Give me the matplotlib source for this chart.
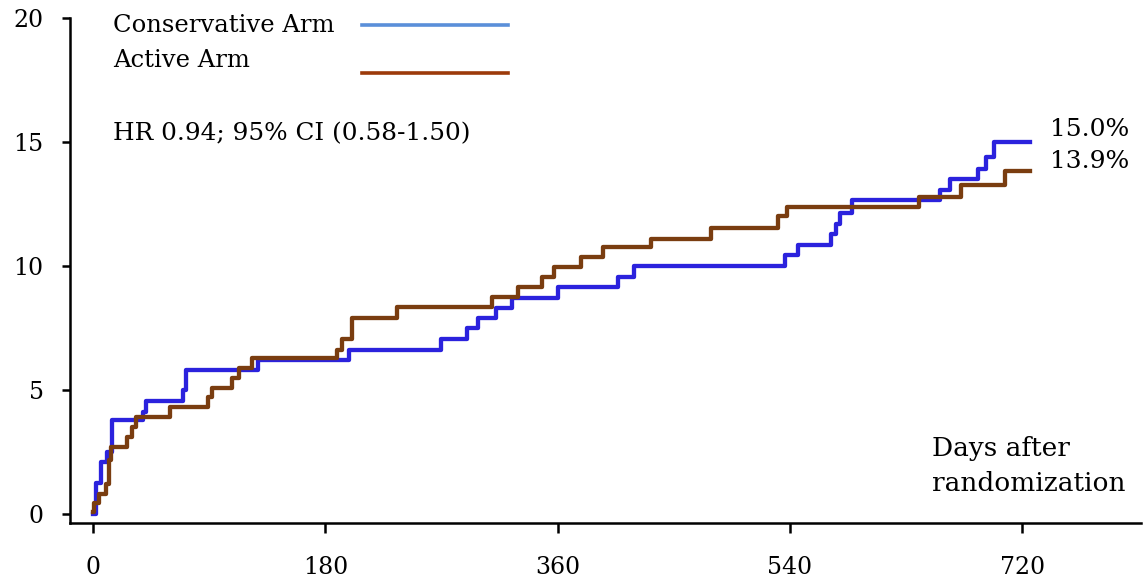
import matplotlib
matplotlib.use("Agg")
import matplotlib.pyplot as plt

# Kaplan-Meier style cumulative incidence (%)
cons_days = [0, 2, 6, 10.5, 14.5, 39, 41, 70, 72, 128, 198, 270, 290, 298, 312,
             324.5, 360.5, 407, 419.5, 536.5, 546.5, 572, 576, 578.5, 588,
             656.5, 664, 686, 692, 698, 726]
cons_vals = [0, 1.25, 2.1, 2.5, 3.8, 4.1, 4.55, 5.0, 5.8, 6.2, 6.6, 7.05, 7.5, 7.9, 8.3,
             8.7, 9.15, 9.55, 10.0, 10.45, 10.85, 11.3, 11.7, 12.15, 12.65,
             13.05, 13.5, 13.9, 14.4, 15.0, 15.0]

act_days = [0, 1, 5, 10, 12.5, 14, 26, 30, 33, 60, 89, 92, 108, 113, 123, 189,
            193, 201, 235.5, 309, 329, 348, 357, 378, 395, 432, 479, 531, 538,
            640, 672.5, 707, 726]
act_vals = [0.1, 0.45, 0.8, 1.2, 2.2, 2.7, 3.1, 3.5, 3.9, 4.3, 4.7, 5.1, 5.5, 5.9, 6.3, 6.6,
            7.05, 7.9, 8.35, 8.75, 9.15, 9.55, 9.95, 10.35, 10.75, 11.1, 11.55, 12.0, 12.4,
            12.8, 13.25, 13.85, 13.85]

x_ticks = [0, 180, 360, 540, 720]
y_ticks = [0, 5, 10, 15, 20]

plt.rcParams['font.family'] = ['DejaVu Serif']

fig = plt.figure(figsize=(11.43, 5.84), dpi=100)
ax = fig.add_axes([70 / 1143, 61 / 584, 1071 / 1143, 505 / 584])

ax.step(cons_days, cons_vals, where='post', color='#2b22dd', lw=3.1)
ax.step(act_days, act_vals, where='post', color='#7a3d10', lw=3.1)

ax.set_xlim(-17.8, 812)
ax.set_ylim(-0.36, 20)
ax.set_xticks(x_ticks)
ax.set_yticks(y_ticks)
ax.tick_params(axis='x', length=7, width=1.8, pad=17, labelsize=17)
ax.tick_params(axis='y', length=6, width=1.8, pad=13, labelsize=17)
for s in ['top', 'right']:
    ax.spines[s].set_visible(False)
for s in ['left', 'bottom']:
    ax.spines[s].set_linewidth(1.8)

# legend drawn by hand like the original
ax.plot([208.5, 321.6], [19.7, 19.7], color='#5a8fd9', lw=2.6, clip_on=False)
ax.plot([208.5, 321.6], [17.8, 17.8], color='#9c3a0a', lw=2.6, clip_on=False)
ax.text(15.5, 19.7, 'Conservative Arm', fontsize=17.5, va='center', ha='left')
ax.text(15.5, 18.3, 'Active Arm', fontsize=17.5, va='center', ha='left')
ax.text(15.5, 15.35, 'HR 0.94; 95% CI (0.58-1.50)', fontsize=17.8, va='center', ha='left')

ax.text(741.5, 15.5, '15.0%', fontsize=18, va='center', ha='left')
ax.text(741.5, 14.2, '13.9%', fontsize=18, va='center', ha='left')
ax.text(650, 1.95, 'Days after\nrandomization', fontsize=19, va='center', ha='left',
        linespacing=1.5)

fig.savefig('out.png', dpi=100)
